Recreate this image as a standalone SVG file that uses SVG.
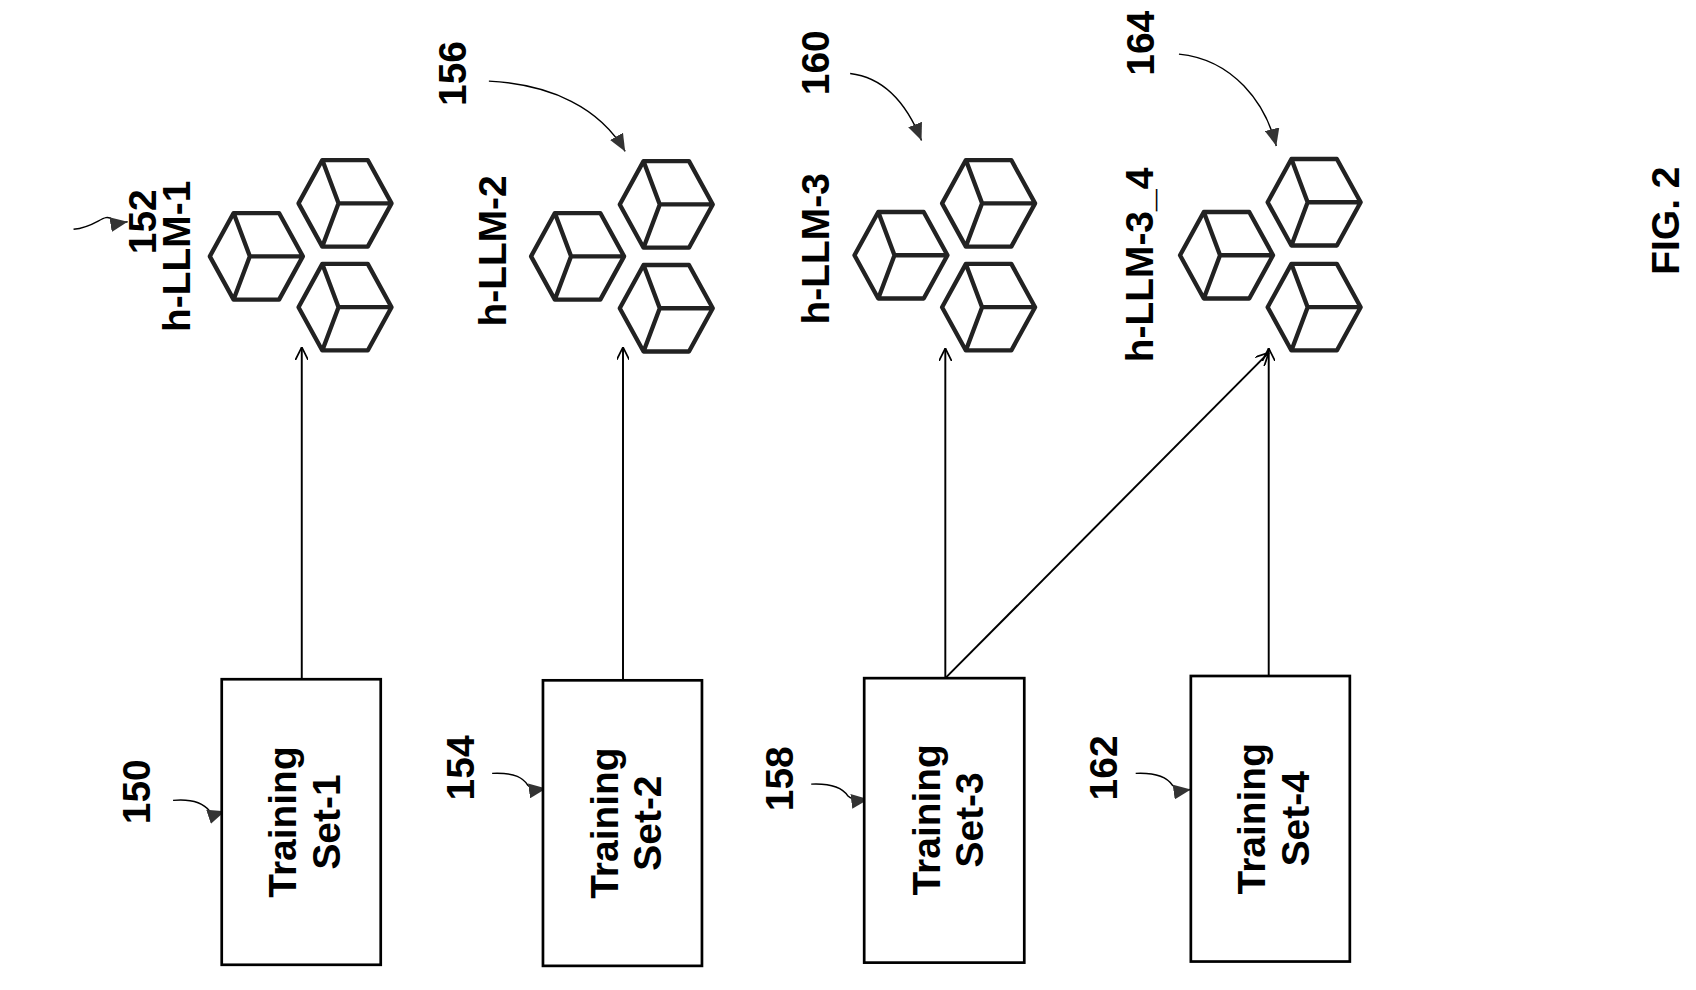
<svg xmlns="http://www.w3.org/2000/svg" width="1696" height="990" viewBox="0 0 1696 990">
<style>
.t{font-family:"Liberation Sans",Arial,sans-serif;font-weight:bold;font-size:36px;fill:#000;text-anchor:middle}
.c{fill:none;stroke:#222;stroke-width:4;stroke-linejoin:round}
.b{fill:#fff;stroke:#000;stroke-width:2.5}
.l{fill:none;stroke:#000;stroke-width:1.8}
.ld{fill:none;stroke:#000;stroke-width:1.3}
</style>
<defs>
<g id="cube"><path class="c" d="M-43,0 L-21,-40 L21,-40 L43,0 L21,40 L-21,40 Z M-21,-40 L-6,0 L43,0 M-6,0 L-21,40"/></g>
<marker id="open" viewBox="0 0 12 12" refX="12" refY="6" markerWidth="12" markerHeight="12" orient="auto" markerUnits="userSpaceOnUse"><path d="M0,0 L12,6 L0,12" fill="none" stroke="#000" stroke-width="1.6"/></marker>
<marker id="tri" viewBox="0 0 14 12" refX="14" refY="6" markerWidth="16" markerHeight="14" orient="auto" markerUnits="userSpaceOnUse"><path d="M0,0 L14,6 L0,12 Z" fill="#333"/></marker>
</defs>
<rect width="1696" height="990" fill="#fff"/>
<g transform="scale(1.0816)">
<g id="connectors">
<line class="l" x1="279" y1="628" x2="279" y2="321" marker-end="url(#open)"/>
<line class="l" x1="576" y1="629" x2="576" y2="321" marker-end="url(#open)"/>
<line class="l" x1="874" y1="627" x2="874" y2="322" marker-end="url(#open)"/>
<line class="l" x1="1173" y1="625" x2="1173" y2="322" marker-end="url(#open)"/>
<line class="l" x1="874" y1="627" x2="1173" y2="326" marker-end="url(#open)"/>
<path class="ld" d="M68,212 C90,210 96,196 104,203 C108,206 112,206 118,205" marker-end="url(#tri)"/>
<path class="ld" d="M452,75 C510,78 555,100 578,140" marker-end="url(#tri)"/>
<path class="ld" d="M786,68 C820,72 840,100 852,130" marker-end="url(#tri)"/>
<path class="ld" d="M1090,50 C1140,55 1170,95 1180,135" marker-end="url(#tri)"/>
<path class="ld" d="M160,740 C182,738 190,745 194,750 C198,754 202,752 208,750" marker-end="url(#tri)"/>
<path class="ld" d="M455,715 C477,714 484,720 488,726 C492,730 498,730 505,729" marker-end="url(#tri)"/>
<path class="ld" d="M750,725 C772,724 780,730 784,736 C788,740 795,740 803,739" marker-end="url(#tri)"/>
<path class="ld" d="M1050,715 C1072,714 1080,720 1084,726 C1088,730 1094,731 1101,730" marker-end="url(#tri)"/>
</g>
<g id="ts1"><rect class="b" x="205" y="628" width="147" height="264"/><text class="t" transform="translate(278,760) rotate(-90)"><tspan x="0" y="-4">Training</tspan><tspan x="0" y="36">Set-1</tspan></text></g>
<g id="ts2"><rect class="b" x="502" y="629" width="147" height="264"/><text class="t" transform="translate(575,761) rotate(-90)"><tspan x="0" y="-4">Training</tspan><tspan x="0" y="36">Set-2</tspan></text></g>
<g id="ts3"><rect class="b" x="799" y="627" width="148" height="263"/><text class="t" transform="translate(873,758) rotate(-90)"><tspan x="0" y="-4">Training</tspan><tspan x="0" y="36">Set-3</tspan></text></g>
<g id="ts4"><rect class="b" x="1101" y="625" width="147" height="264"/><text class="t" transform="translate(1174,757) rotate(-90)"><tspan x="0" y="-4">Training</tspan><tspan x="0" y="36">Set-4</tspan></text></g>
<g id="llm1"><use href="#cube" x="237" y="237"/><use href="#cube" x="319" y="188"/><use href="#cube" x="319" y="284"/><text class="t" transform="translate(176,237) rotate(-90)">h-LLM-1</text></g>
<g id="llm2"><use href="#cube" x="534" y="237"/><use href="#cube" x="616" y="189"/><use href="#cube" x="616" y="285"/><text class="t" transform="translate(468,232) rotate(-90)">h-LLM-2</text></g>
<g id="llm3"><use href="#cube" x="833" y="236"/><use href="#cube" x="914" y="188"/><use href="#cube" x="914" y="284"/><text class="t" transform="translate(766,230) rotate(-90)">h-LLM-3</text></g>
<g id="llm4"><use href="#cube" x="1134" y="236"/><use href="#cube" x="1215" y="187"/><use href="#cube" x="1215" y="284"/><text class="t" transform="translate(1066,245) rotate(-90)">h-LLM-3_4</text></g>
<g id="refs">
<text class="t" transform="translate(144,205) rotate(-90)">152</text>
<text class="t" transform="translate(431,68) rotate(-90)">156</text>
<text class="t" transform="translate(766,58) rotate(-90)">160</text>
<text class="t" transform="translate(1067,40) rotate(-90)">164</text>
<text class="t" transform="translate(139,732) rotate(-90)">150</text>
<text class="t" transform="translate(438,710) rotate(-90)">154</text>
<text class="t" transform="translate(733,720) rotate(-90)">158</text>
<text class="t" transform="translate(1033,710) rotate(-90)">162</text>
<text class="t" transform="translate(1552,204) rotate(-90)">FIG. 2</text>
</g>
</g>
</svg>
